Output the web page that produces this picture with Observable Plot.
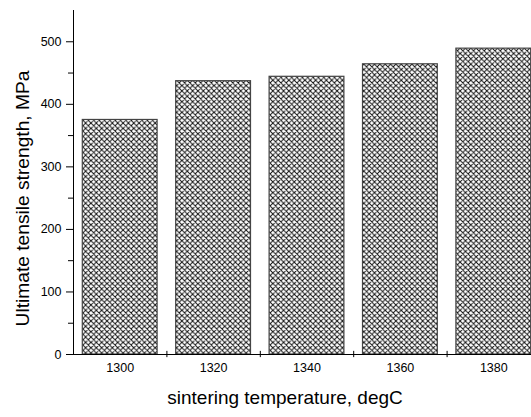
<!DOCTYPE html>
<html>
<head>
<meta charset="utf-8">
<script src="https://cdn.jsdelivr.net/npm/d3@7"></script>
<script src="https://cdn.jsdelivr.net/npm/@observablehq/plot@0.6"></script>
<style>
  html, body { margin: 0; padding: 0; background: #fff; overflow: hidden; }
  #chart { width: 531px; height: 417px; }
</style>
</head>
<body>
<div id="chart"></div>
<script>
const temperatures = [1300, 1320, 1340, 1360, 1380];
const strengths = [375, 437, 444, 464, 489];
const yMajorTicks = [0, 100, 200, 300, 400, 500];
const yMinorTicks = [50, 150, 250, 350, 450];
const xBoundaryTicks = [1310, 1330, 1350, 1370, 1390];
const xTitle = "sintering temperature, degC";
const yTitle = "Ultimate tensile strength, MPa";

const data = temperatures.map((t, i) => ({t, v: strengths[i]}));

const chart = Plot.plot({
  width: 531,
  height: 417,
  marginLeft: 73,
  marginRight: -9,
  marginTop: 10,
  marginBottom: 63,
  style: {fontFamily: "'Liberation Sans', Arial, sans-serif", fontSize: "12.5px", color: "#000", background: "#fff"},
  x: {type: "linear", domain: [1290, 1390]},
  y: {domain: [0, 550]},
  marks: [
    Plot.rectY(data, {x1: d => d.t - 10, x2: d => d.t + 10, y: "v", insetLeft: 9.3, insetRight: 9.3,
      fill: "url(#xhatch)", stroke: "#444", strokeWidth: 1.2}),
    Plot.ruleX([1290], {y1: 0, y2: 550, stroke: "#000", strokeWidth: 1}),
    Plot.ruleY([0], {x1: 1290, x2: 1390, stroke: "#000", strokeWidth: 1}),
    Plot.ruleX(xBoundaryTicks, {y1: -5, y2: 5, stroke: "#000", strokeWidth: 1}),
    Plot.axisY({ticks: yMajorTicks, tickSize: 7, tickPadding: 5, tickFormat: d => String(d), label: null, fontSize: 12.5}),
    Plot.axisY({ticks: yMinorTicks, tickSize: 5, tickFormat: () => "", label: null}),
    Plot.axisX({ticks: temperatures, tickSize: 0, tickPadding: 9, tickFormat: d => String(d), label: null, fontSize: 12.5}),
    Plot.text([xTitle], {frameAnchor: "bottom", dx: -22, dy: 49, fontSize: 19, text: d => d}),
    Plot.text([yTitle], {frameAnchor: "left", textAnchor: "middle", dx: -51, dy: 16, rotate: -90, fontSize: 19.2, text: d => d})
  ]
});

const ns = "http://www.w3.org/2000/svg";
const defs = document.createElementNS(ns, "defs");
const pat = document.createElementNS(ns, "pattern");
pat.setAttribute("id", "xhatch");
pat.setAttribute("patternUnits", "userSpaceOnUse");
pat.setAttribute("width", "5.35");
pat.setAttribute("height", "5.35");
pat.innerHTML =
  '<rect width="5.35" height="5.35" fill="#fff"/>' +
  '<path d="M-1,-1 L6.35,6.35 M-1,6.35 L6.35,-1 M-1,4.35 L1,6.35 M4.35,-1 L6.35,1 M-1,1 L1,-1 M4.35,6.35 L6.35,4.35" stroke="#111" stroke-width="1" fill="none"/>';
defs.appendChild(pat);
chart.insertBefore(defs, chart.firstChild);
document.getElementById("chart").appendChild(chart);
</script>
</body>
</html>
